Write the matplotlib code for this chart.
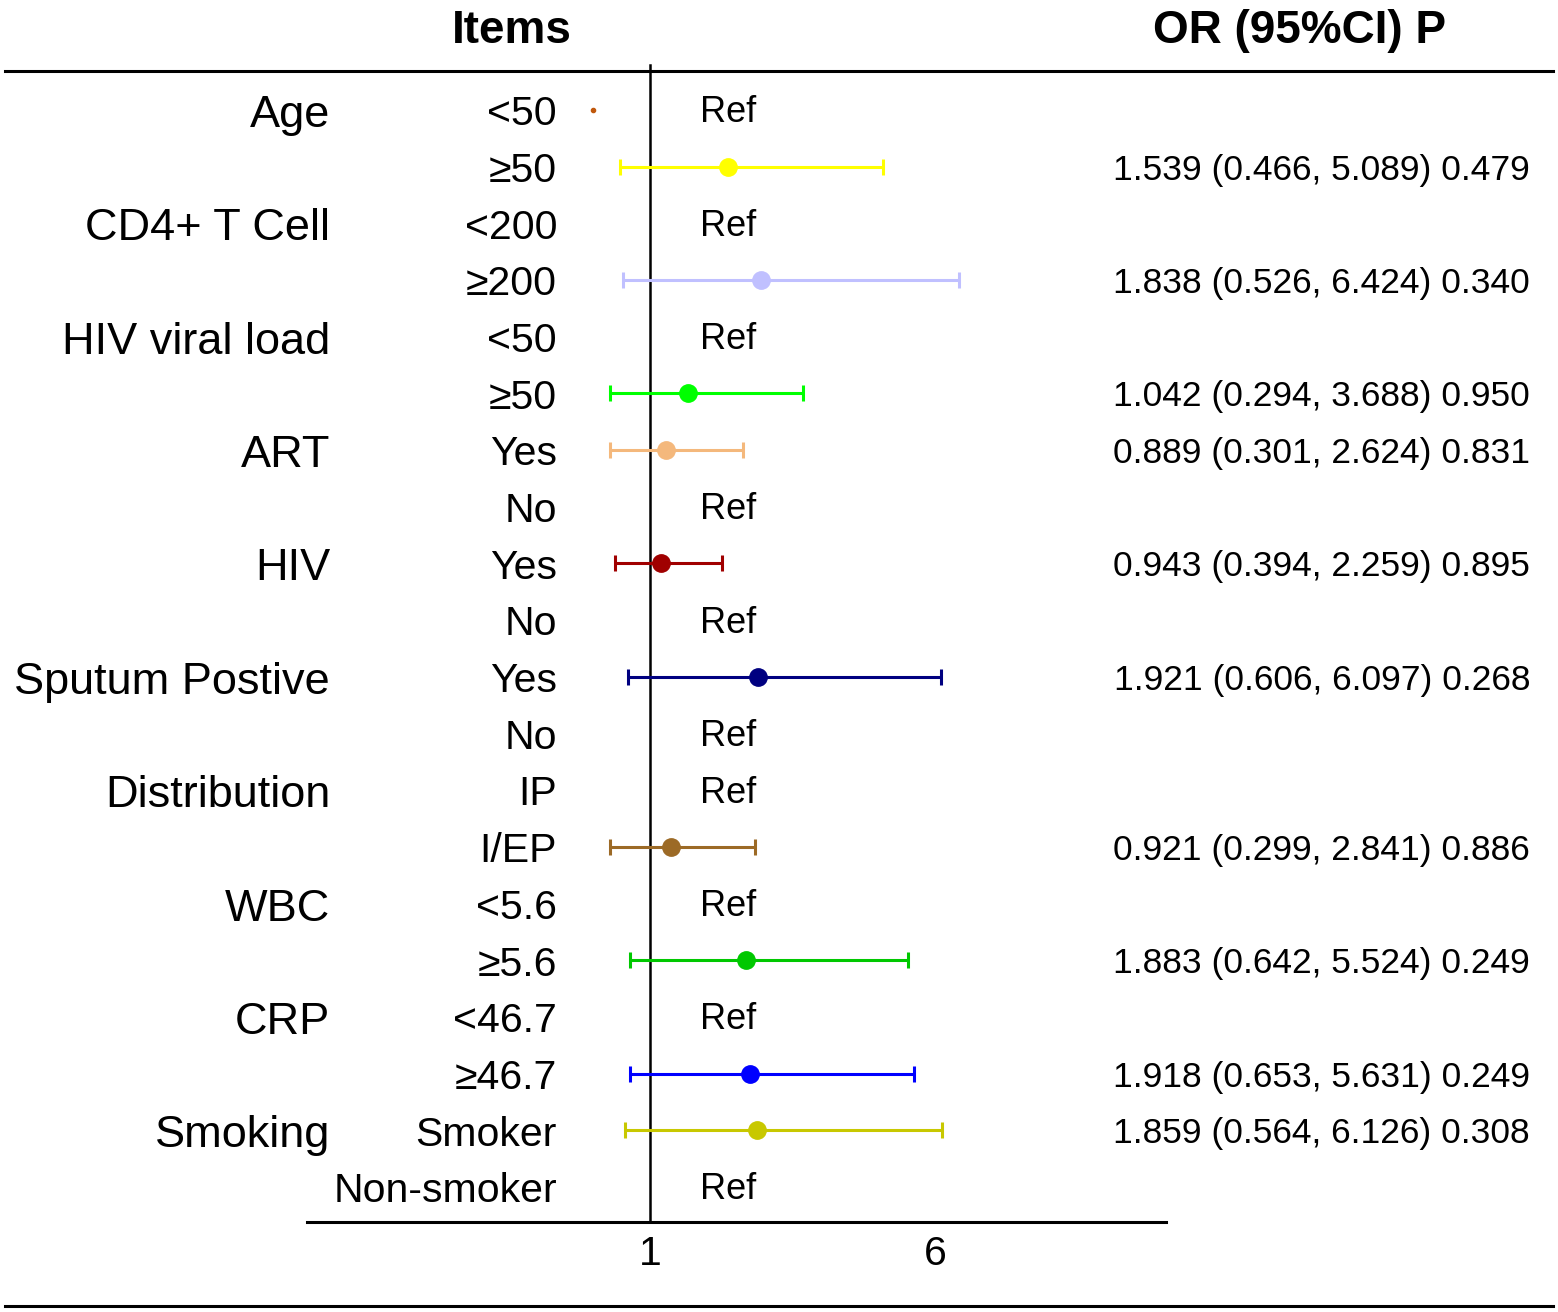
import matplotlib
matplotlib.use("Agg")
import matplotlib.pyplot as plt

plt.rcParams["font.family"] = ["Liberation Sans", "DejaVu Sans"]

groups = ["Age", "CD4+ T Cell", "HIV viral load", "ART", "HIV",
          "Sputum Postive", "Distribution", "WBC", "CRP", "Smoking"]
group_rows = [0, 2, 4, 6, 8, 10, 12, 14, 16, 18]

levels = ["<50", "\u226550", "<200", "\u2265200", "<50", "\u226550", "Yes", "No",
          "Yes", "No", "Yes", "No", "IP", "I/EP", "<5.6", "\u22655.6",
          "<46.7", "\u226546.7", "Smoker", "Non-smoker"]

ref_rows = [0, 2, 4, 7, 9, 11, 12, 14, 16, 19]

# rows with an estimate
est_rows = [1, 3, 5, 6, 8, 10, 13, 15, 17, 18]
odds = [1.539, 1.838, 1.042, 0.889, 0.943, 1.921, 0.921, 1.883, 1.918, 1.859]
lower = [0.466, 0.526, 0.294, 0.301, 0.394, 0.606, 0.299, 0.642, 0.653, 0.564]
upper = [5.089, 6.424, 3.688, 2.624, 2.259, 6.097, 2.841, 5.524, 5.631, 6.126]
pvals = [0.479, 0.340, 0.950, 0.831, 0.895, 0.268, 0.886, 0.249, 0.249, 0.308]
# plotted point positions
points = [2.37, 2.95, 1.67, 1.28, 1.19, 2.89, 1.37, 2.68, 2.75, 2.88]
colors = ["#FFFF00", "#C0C0FF", "#00FF00", "#F4B87C", "#A00000",
          "#000080", "#9C6A26", "#00C800", "#0000FF", "#C8C800"]

xticks = [1, 6]


def main():
    fig = plt.figure(figsize=(15.58, 13.12), dpi=100)
    ax = fig.add_axes([0, 0, 1, 1])
    ax.axis("off")

    # pixel -> data helpers (57 px per unit, x=1 at 650 px, row 0 at 110 px)
    px = lambda p: 1 + (p - 650) / 57.0
    py = lambda p: (p - 110) / 56.68
    ax.set_xlim(px(0), px(1558))
    ax.set_ylim(py(1312), py(0))

    # lines
    ax.plot([px(5), px(1553)], [py(71), py(71)], color="black", lw=2.2)
    ax.plot([px(5), px(1553)], [py(1306), py(1306)], color="black", lw=2.2)
    ax.plot([px(307), px(1166)], [py(1222), py(1222)], color="black", lw=2.2)
    ax.plot([1, 1], [py(65), py(1222)], color="black", lw=1.8)

    # headers
    ax.text(px(512), py(43), "Items", ha="center", va="baseline",
            fontsize=33, fontweight="bold")
    ax.text(px(1300), py(43), "OR (95%CI) P", ha="center", va="baseline",
            fontsize=33, fontweight="bold")

    # group labels
    for g, r in zip(groups, group_rows):
        ax.text(px(330), r + 0.3, g, ha="right", va="baseline", fontsize=32.5)

    # level labels
    for i, lv in enumerate(levels):
        ax.text(px(557), i + 0.27, lv, ha="right", va="baseline", fontsize=29.5)

    for r in ref_rows:
        ax.text(px(700), r + 0.22, "Ref", ha="left", va="baseline", fontsize=26)

    # tiny reference dot for age <50
    ax.plot([0], [0], "o", color="#C0580C", ms=3)

    for r, o, lo, hi, p, pt, c in zip(est_rows, odds, lower, upper, pvals,
                                        points, colors):
        ax.errorbar(pt, r, xerr=[[pt - lo], [hi - pt]], fmt="o", color=c,
                    ms=12.5, elinewidth=2.2, capsize=6, capthick=2.2)
        ax.text(px(1530), r + 0.23, f"{o:.3f} ({lo:.3f}, {hi:.3f}) {p:.3f}",
                ha="right", va="baseline", fontsize=25.5)

    for t in xticks:
        ax.text(t, py(1265), str(t), ha="center", va="baseline", fontsize=29.5)

    fig.savefig("out.png", dpi=100)


if __name__ == "__main__":
    main()
